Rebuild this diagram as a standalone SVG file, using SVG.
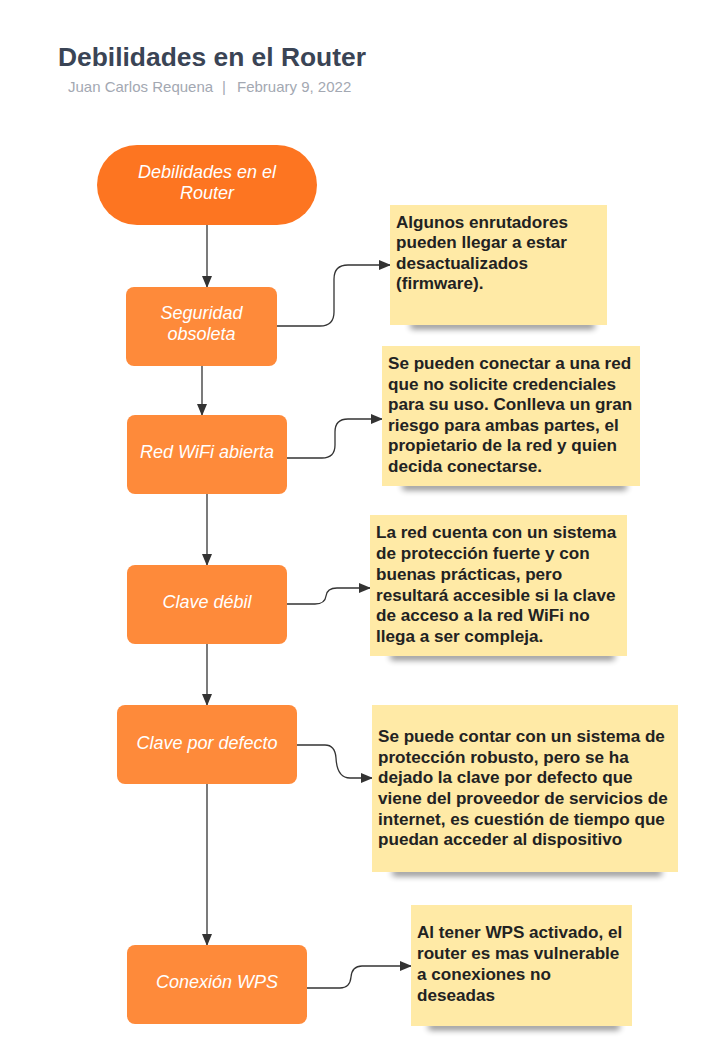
<svg xmlns="http://www.w3.org/2000/svg" width="709" height="1062" viewBox="0 0 709 1062">
<style>
.title{font-family:"Liberation Sans",Arial,sans-serif;font-weight:bold;font-size:26.4px;fill:#3a4455}
.sub{font-family:"Liberation Sans",Arial,sans-serif;font-size:15px;fill:#a3a8b2}
.box{fill:#fe8a3a}
.bt{font-family:"Liberation Sans",Arial,sans-serif;font-style:italic;font-size:18px;fill:#ffffff;text-anchor:middle}
.note{fill:#ffeaa6}
.nt{font-family:"Liberation Sans",Arial,sans-serif;font-weight:bold;font-size:17.1px;fill:#222222}
.shadow{fill:#000000;opacity:0.45;filter:url(#blur)}
.conn{fill:none;stroke:#333333;stroke-width:1.3}
</style>
<defs>
<marker id="arr" markerWidth="12" markerHeight="10" refX="11" refY="5" orient="auto" markerUnits="userSpaceOnUse">
<path d="M0,0 L12,5 L0,10 Z" fill="#333333"/>
</marker>
<filter id="blur" x="-20%" y="-100%" width="140%" height="300%"><feGaussianBlur stdDeviation="3"/></filter>
</defs>
<rect width="709" height="1062" fill="#ffffff"/>
<text class="title" x="58" y="66">Debilidades en el Router</text>
<text class="sub" x="68" y="92">Juan Carlos Requena</text>
<text class="sub" x="222" y="92">|</text>
<text class="sub" x="237" y="92">February 9, 2022</text>

<g id="connectors">
<path class="conn" d="M207,225 V287" marker-end="url(#arr)"/>
<path class="conn" d="M202,366 V415" marker-end="url(#arr)"/>
<path class="conn" d="M207,494 V565" marker-end="url(#arr)"/>
<path class="conn" d="M207,644 V705" marker-end="url(#arr)"/>
<path class="conn" d="M207,784 V945" marker-end="url(#arr)"/>
<path class="conn" d="M277,326 H320 Q334,326 334,312 V279 Q334,265 348,265 H390" marker-end="url(#arr)"/>
<path class="conn" d="M287,458 H322 Q335,458 335,445 V432 Q335,419 348,419 H382" marker-end="url(#arr)"/>
<path class="conn" d="M287,604 H315 Q325,604 326,596 Q327,588 337,588 H370" marker-end="url(#arr)"/>
<path class="conn" d="M297,745 H325 Q335,745 336,758 Q337,778 350,778 H372" marker-end="url(#arr)"/>
<path class="conn" d="M307,988 H340 Q350,988 351,977 Q352,966 362,966 H411" marker-end="url(#arr)"/>
</g>

<g id="start">
<rect x="97" y="145" width="220" height="80" rx="40" fill="#fd7521"/>
<text class="bt" x="207" y="178">Debilidades en el</text>
<text class="bt" x="207" y="199">Router</text>
</g>

<g id="seguridad">
<rect class="box" x="126" y="287" width="151" height="79" rx="8"/>
<text class="bt" x="201.5" y="319">Seguridad</text>
<text class="bt" x="201.5" y="340">obsoleta</text>
</g>

<g id="redwifi">
<rect class="box" x="127" y="415" width="160" height="79" rx="8"/>
<text class="bt" x="207" y="458">Red WiFi abierta</text>
</g>

<g id="clavedebil">
<rect class="box" x="127" y="565" width="160" height="79" rx="8"/>
<text class="bt" x="207" y="608">Clave débil</text>
</g>

<g id="clavedefecto">
<rect class="box" x="117" y="705" width="180" height="79" rx="8"/>
<text class="bt" x="207" y="749">Clave por defecto</text>
</g>

<g id="wps">
<rect class="box" x="127" y="945" width="180" height="79" rx="8"/>
<text class="bt" x="217" y="988">Conexión WPS</text>
</g>

<g id="note1">
<rect class="shadow" x="410" y="322" width="185" height="7" rx="3"/>
<rect class="note" x="390" y="205" width="217" height="120"/>
<text class="nt" x="396" y="228">Algunos enrutadores</text>
<text class="nt" x="396" y="248">pueden llegar a estar</text>
<text class="nt" x="396" y="269">desactualizados</text>
<text class="nt" x="396" y="289">(firmware).</text>
</g>

<g id="note2">
<rect class="shadow" x="402" y="483" width="225" height="7" rx="3"/>
<rect class="note" x="382" y="346" width="258" height="140"/>
<text class="nt" x="388" y="369">Se pueden conectar a una red</text>
<text class="nt" x="388" y="390">que no solicite credenciales</text>
<text class="nt" x="388" y="410">para su uso. Conlleva un gran</text>
<text class="nt" x="388" y="431">riesgo para ambas partes, el</text>
<text class="nt" x="388" y="451">propietario de la red y quien</text>
<text class="nt" x="388" y="472">decida conectarse.</text>
</g>

<g id="note3">
<rect class="shadow" x="390" y="653" width="225" height="7" rx="3"/>
<rect class="note" x="370" y="515" width="257" height="141"/>
<text class="nt" x="376" y="538">La red cuenta con un sistema</text>
<text class="nt" x="376" y="559">de protección fuerte y con</text>
<text class="nt" x="376" y="580">buenas prácticas, pero</text>
<text class="nt" x="376" y="601">resultará accesible si la clave</text>
<text class="nt" x="376" y="621">de acceso a la red WiFi no</text>
<text class="nt" x="376" y="642">llega a ser compleja.</text>
</g>

<g id="note4">
<rect class="shadow" x="392" y="869" width="270" height="7" rx="3"/>
<rect class="note" x="372" y="705" width="306" height="167"/>
<text class="nt" x="378" y="742">Se puede contar con un sistema de</text>
<text class="nt" x="378" y="763">protección robusto, pero se ha</text>
<text class="nt" x="378" y="783">dejado la clave por defecto que</text>
<text class="nt" x="378" y="804">viene del proveedor de servicios de</text>
<text class="nt" x="378" y="825">internet, es cuestión de tiempo que</text>
<text class="nt" x="378" y="845">puedan acceder al dispositivo</text>
</g>

<g id="note5">
<rect class="shadow" x="428" y="1023" width="192" height="7" rx="3"/>
<rect class="note" x="411" y="905" width="221" height="121"/>
<text class="nt" x="417" y="938">Al tener WPS activado, el</text>
<text class="nt" x="417" y="959">router es mas vulnerable</text>
<text class="nt" x="417" y="980">a conexiones no</text>
<text class="nt" x="417" y="1001">deseadas</text>
</g>
</svg>
